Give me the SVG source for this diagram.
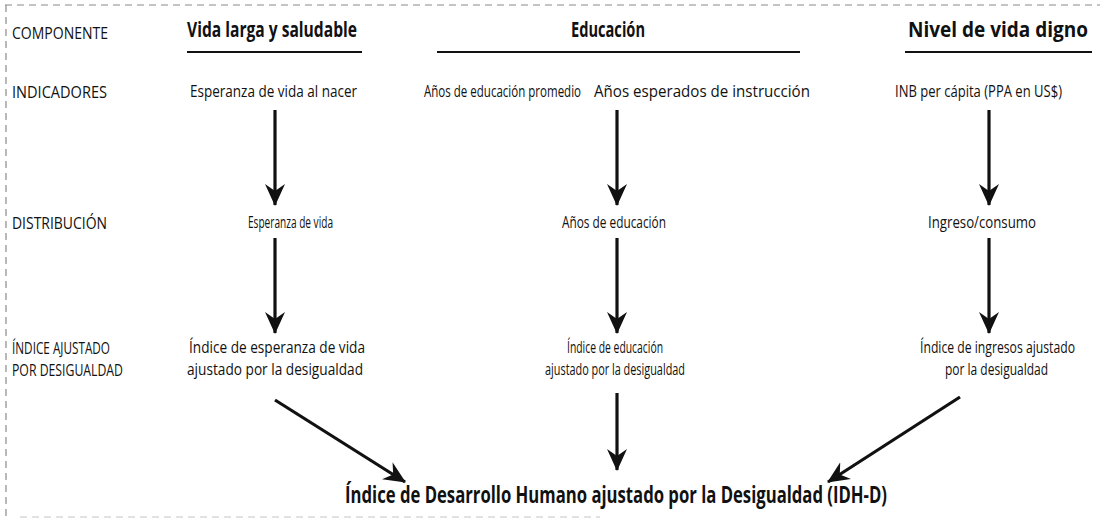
<svg xmlns="http://www.w3.org/2000/svg" width="1104" height="525" viewBox="0 0 1104 525">
<style>
text{font-family:"Open Sans","Liberation Sans",sans-serif;fill:#111}
.lbl{font-size:17px}
.hd{font-size:22px;font-weight:bold}
.txt{font-size:16.5px}
.fin{font-size:23px;font-weight:bold}
.ul{stroke:#111;stroke-width:2.2}
.arr{stroke:#111;stroke-width:3.2;fill:none;marker-end:url(#ah)}
.brd{stroke:#8a8a8a;stroke-width:1.2;stroke-dasharray:7 5;fill:none}
</style>
<defs>
<marker id="ah" markerUnits="userSpaceOnUse" markerWidth="22" markerHeight="22" viewBox="0 0 22 22" refX="21" refY="11" orient="auto">
<path d="M0,1 L22,11 L0,21 L7,11 Z" fill="#111"/>
</marker>
</defs>
<rect width="1104" height="525" fill="#fff"/>
<g id="border">
<line class="brd" x1="5" y1="5" x2="1100" y2="5"/>
<line class="brd" x1="6" y1="5" x2="6" y2="520"/>
<line class="brd" x1="20" y1="517" x2="600" y2="517" stroke-opacity="0.5"/>
</g>
<g id="row-labels">
<text class="lbl" x="12" y="39" textLength="96" lengthAdjust="spacingAndGlyphs">COMPONENTE</text>
<text class="lbl" x="12" y="98" textLength="95" lengthAdjust="spacingAndGlyphs">INDICADORES</text>
<text class="lbl" x="12" y="229" textLength="95" lengthAdjust="spacingAndGlyphs">DISTRIBUCIÓN</text>
<text class="lbl" x="12" y="354" textLength="98" lengthAdjust="spacingAndGlyphs">ÍNDICE AJUSTADO</text>
<text class="lbl" x="12" y="376" textLength="111" lengthAdjust="spacingAndGlyphs">POR DESIGUALDAD</text>
</g>
<g id="hdr-vida">
<text class="hd" x="187" y="37" textLength="170" lengthAdjust="spacingAndGlyphs">Vida larga y saludable</text>
<line class="ul" x1="187" y1="52" x2="362" y2="52"/>
</g>
<g id="hdr-educacion">
<text class="hd" x="571" y="37" textLength="74" lengthAdjust="spacingAndGlyphs">Educación</text>
<line class="ul" x1="437" y1="52" x2="800" y2="52"/>
</g>
<g id="hdr-nivel">
<text class="hd" x="908" y="37" textLength="180" lengthAdjust="spacingAndGlyphs">Nivel de vida digno</text>
<line class="ul" x1="905" y1="52" x2="1092" y2="52"/>
</g>
<g id="ind-vida"><text class="txt" x="190" y="97" textLength="167" lengthAdjust="spacingAndGlyphs">Esperanza de vida al nacer</text></g>
<g id="ind-edu1"><text class="txt" x="424" y="97" textLength="157" lengthAdjust="spacingAndGlyphs">Años de educación promedio</text></g>
<g id="ind-edu2"><text class="txt" x="594" y="97" textLength="216" lengthAdjust="spacingAndGlyphs">Años esperados de instrucción</text></g>
<g id="ind-inb"><text class="txt" x="895" y="97" textLength="167" lengthAdjust="spacingAndGlyphs">INB per cápita (PPA en US$)</text></g>
<g id="dist-vida"><text class="txt" x="248" y="228" textLength="85" lengthAdjust="spacingAndGlyphs">Esperanza de vida</text></g>
<g id="dist-edu"><text class="txt" x="562" y="228" textLength="104" lengthAdjust="spacingAndGlyphs">Años de educación</text></g>
<g id="dist-ing"><text class="txt" x="928" y="228" textLength="108" lengthAdjust="spacingAndGlyphs">Ingreso/consumo</text></g>
<g id="idx-vida">
<text class="txt" x="189" y="353" textLength="176" lengthAdjust="spacingAndGlyphs">Índice de esperanza de vida</text>
<text class="txt" x="187" y="375" textLength="176" lengthAdjust="spacingAndGlyphs">ajustado por la desigualdad</text>
</g>
<g id="idx-edu">
<text class="txt" x="567" y="353" textLength="96" lengthAdjust="spacingAndGlyphs">Índice de educación</text>
<text class="txt" x="545" y="375" textLength="140" lengthAdjust="spacingAndGlyphs">ajustado por la desigualdad</text>
</g>
<g id="idx-ing">
<text class="txt" x="920" y="353" textLength="155" lengthAdjust="spacingAndGlyphs">Índice de ingresos ajustado</text>
<text class="txt" x="945" y="375" textLength="103" lengthAdjust="spacingAndGlyphs">por la desigualdad</text>
</g>
<g id="idh-d">
<text class="fin" x="345" y="503" textLength="542" lengthAdjust="spacingAndGlyphs">Índice de Desarrollo Humano ajustado por la Desigualdad (IDH-D)</text>
</g>
<g id="connectors">
<line class="arr" x1="275" y1="110" x2="275" y2="205"/>
<line class="arr" x1="617" y1="110" x2="617" y2="205"/>
<line class="arr" x1="989" y1="110" x2="989" y2="205"/>
<line class="arr" x1="275" y1="238" x2="275" y2="333"/>
<line class="arr" x1="617" y1="238" x2="617" y2="333"/>
<line class="arr" x1="989" y1="238" x2="989" y2="333"/>
<line class="arr" x1="275" y1="400" x2="405" y2="482"/>
<line class="arr" x1="617" y1="393" x2="617" y2="470"/>
<line class="arr" x1="960" y1="397" x2="828" y2="482"/>
</g>
</svg>
